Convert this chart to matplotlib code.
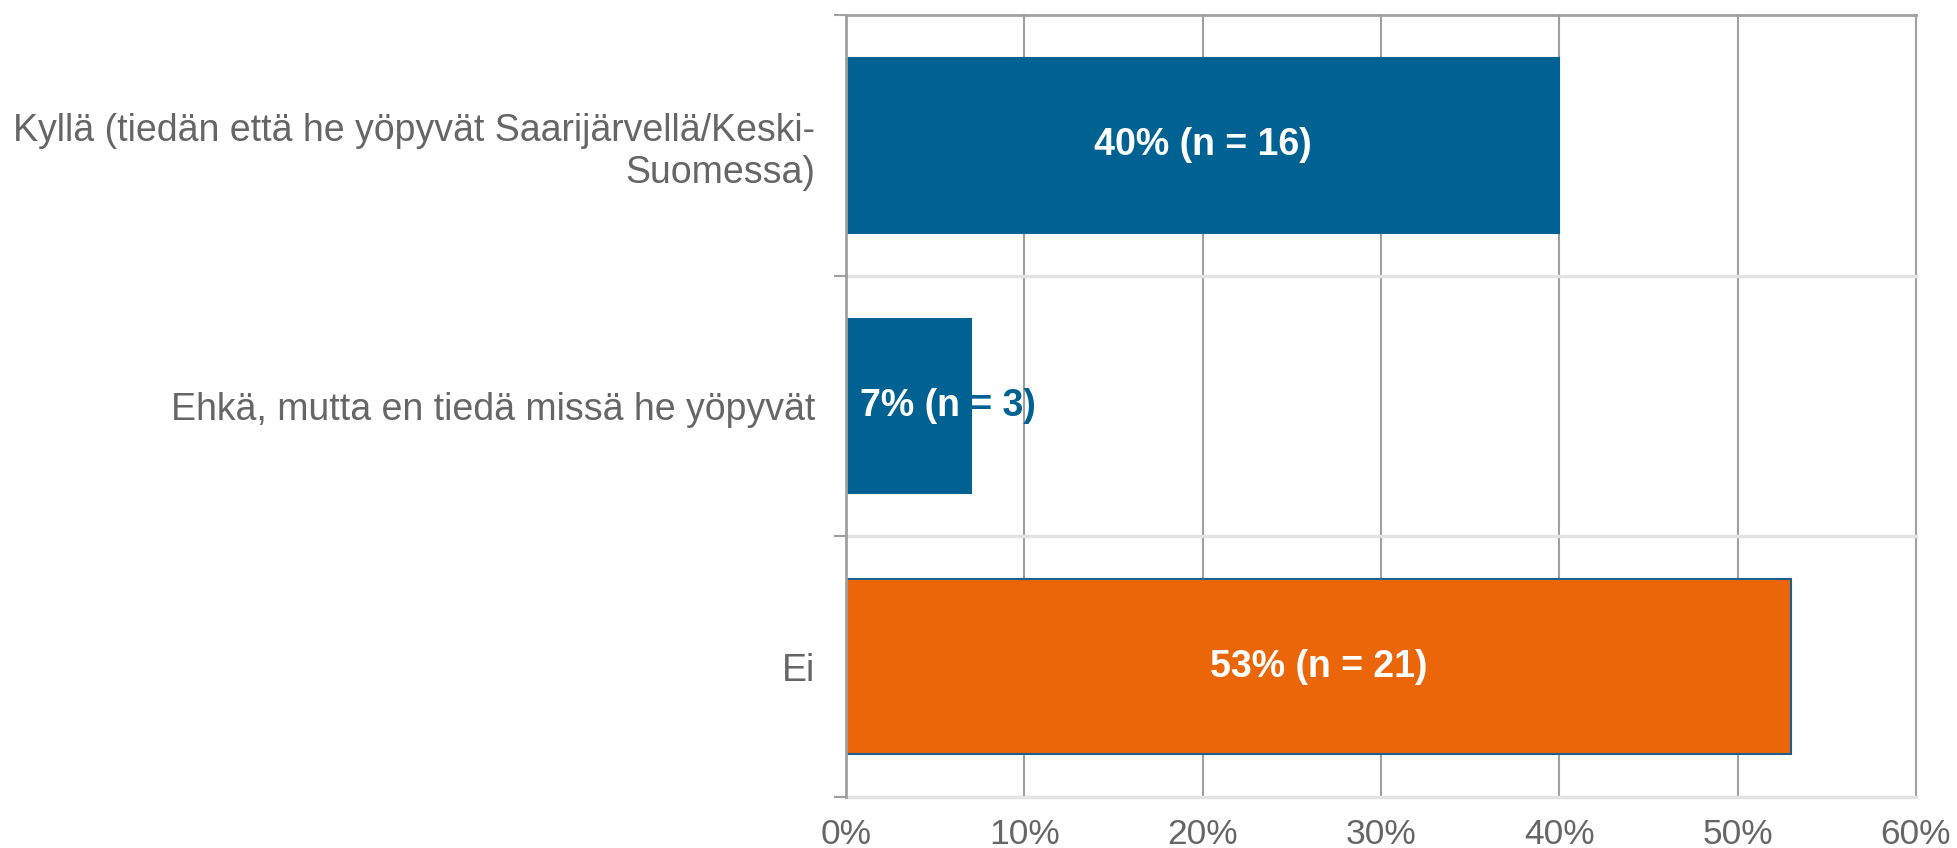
import matplotlib
matplotlib.use("Agg")
import matplotlib.pyplot as plt
from matplotlib.ticker import FuncFormatter
from matplotlib.transforms import TransformedBbox

categories = ["Kyllä (tiedän että he yöpyvät Saarijärvellä/Keski-\nSuomessa)",
              "Ehkä, mutta en tiedä missä he yöpyvät",
              "Ei"]
values = [40, 7, 53]
counts = [16, 3, 21]
colors = ["#006293", "#006293", "#EA6608"]
edgecolors = ["#006293", "#006293", "#1F5F8B"]
xticks = [0, 10, 20, 30, 40, 50, 60]

plt.rcParams['font.family'] = ['Liberation Sans', 'DejaVu Sans']
fig = plt.figure(figsize=(19.57, 8.48), dpi=100)
ax = fig.add_axes([846/1957, 1-797/848, (1916-846)/1957, (797-15)/848])

ypos = list(range(len(categories)))
bars = ax.barh(ypos, values, height=0.67, color=colors, edgecolor=edgecolors, linewidth=1.5, zorder=3)
ax.set_ylim(len(categories)-0.5, -0.5)
ax.set_xlim(0, 60)
ax.set_xticks(xticks)
ax.xaxis.set_major_formatter(FuncFormatter(lambda v, p: f"{v:.0f}%"))
ax.set_yticks(ypos)
ax.set_yticklabels(categories, ha='right', multialignment='right')
ax.tick_params(axis='y', length=0, pad=22, labelsize=27, labelcolor='#666666')
ax.tick_params(axis='x', length=0, pad=15, labelsize=25.5, labelcolor='#666666')

# grid
for s in ['top', 'right', 'bottom', 'left']:
    ax.spines[s].set_visible(False)
for xv in xticks[1:]:
    ax.axvline(xv, color='#A0A0A0', linewidth=1.5, zorder=0, clip_on=False)
ax.axhline(-0.5, color='#A0A0A0', linewidth=2, zorder=1, clip_on=False)
for b in [0.5, 1.5, 2.5]:
    ax.axhline(b, color='#E3E3E3', linewidth=2.5, zorder=1, clip_on=False)
ax.axvline(0, color='#A0A0A0', linewidth=2, zorder=4, clip_on=False)
# small category tick marks on left
for b in [-0.5, 0.5, 1.5, 2.5]:
    ax.plot([-0.6, 0], [b, b], color='#A0A0A0', linewidth=1.5, clip_on=False, zorder=4)

for i, (bar, v, n) in enumerate(zip(bars, values, counts)):
    label = f"{v}% (n = {n})"
    if v >= 15:
        ax.text(v/2, i, label, ha='center', va='center', color='white',
                fontsize=27, fontweight='bold', zorder=5)
    else:
        ax.text(0.8, i, label, ha='left', va='center', color=colors[i],
                fontsize=27, fontweight='bold', zorder=5)
        t2 = ax.text(0.8, i, label, ha='left', va='center', color='white',
                     fontsize=27, fontweight='bold', zorder=6)
        t2.set_clip_box(TransformedBbox(bar.get_bbox(), ax.transData))
        t2.set_clip_on(True)

fig.savefig("out.png", dpi=100)
